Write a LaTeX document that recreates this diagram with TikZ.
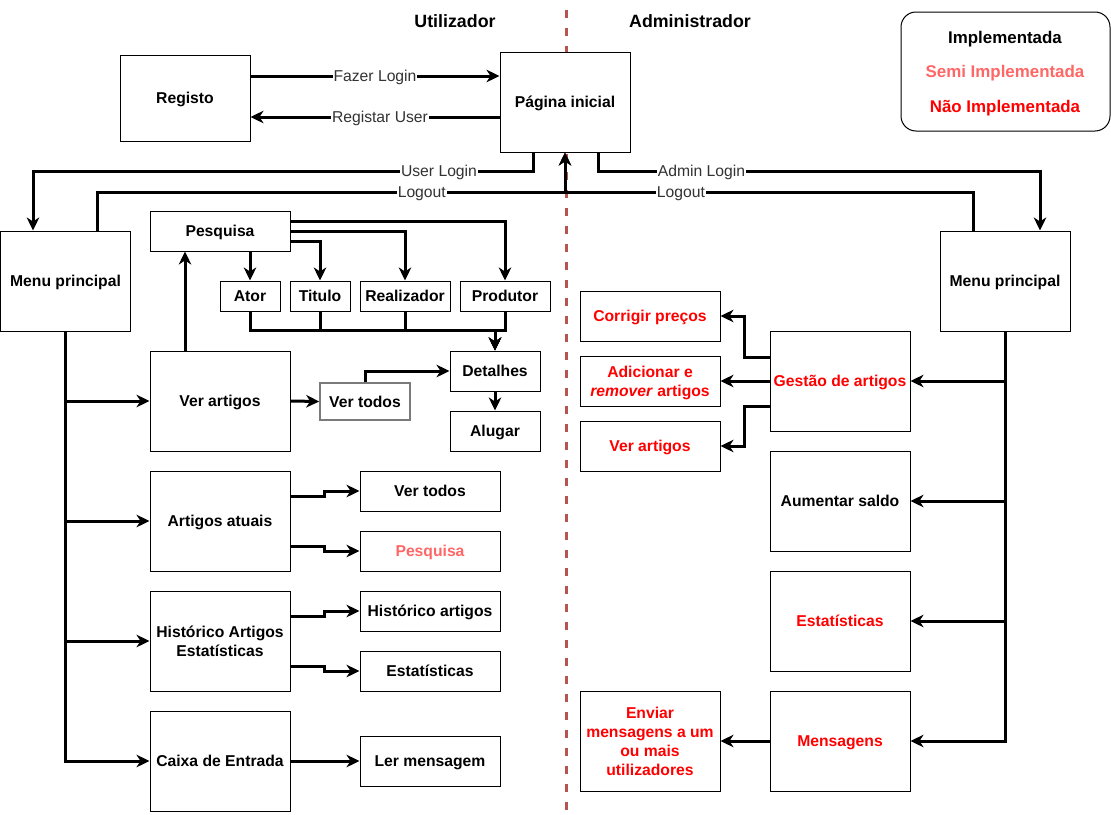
\documentclass[tikz,border=0pt]{standalone}
\usepackage{fontspec}
\setmainfont{Liberation Sans}
\usetikzlibrary{arrows.meta,calc}
\definecolor{semi}{HTML}{FF6666}
\definecolor{nao}{HTML}{FF0000}
\definecolor{sepc}{HTML}{B85450}
\definecolor{lblc}{HTML}{333333}
\definecolor{grayb}{HTML}{7A7A7A}
\begin{document}
\begin{tikzpicture}[x=1pt,y=-1pt,
  box/.style={draw,fill=white,line width=1pt,inner sep=1pt,align=center,text depth=0pt,
    font=\fontsize{15.7}{19}\selectfont\bfseries},
  sz/.style 2 args={minimum width=#1pt,minimum height=#2pt},
  conn/.style={line width=3pt,-{Stealth[length=13pt,width=12.5pt,inset=4pt]}},
  lbl/.style={fill=white,text=lblc,inner sep=1pt,text depth=0pt,
    font=\fontsize{15.7}{19}\selectfont},
  ttl/.style={text depth=0pt,font=\fontsize{17.8}{20}\selectfont\bfseries},
  leg/.style={text depth=0pt,font=\fontsize{16.9}{20}\selectfont\bfseries},
  sepline/.style={draw=sepc,line width=3pt,dash pattern=on 8pt off 10pt}
]
\useasboundingbox (0,0) rectangle (1111,814);

% separator
\draw[sepline] (566,10) -- (566,814);

% titles
\node[ttl] (tu) at (455,21) {Utilizador};
\node[ttl] (ta) at (690,21) {Administrador};

% legend
\node[draw,fill=white,line width=1pt,rounded corners=15pt,sz={209}{119}] (legbox) at (1005.5,71.5) {};
\node[leg] (l1) at (1005,37) {Implementada};
\node[leg,text=semi] (l2) at (1005,71) {Semi Implementada};
\node[leg,text=nao] (l3) at (1005,106) {Não Implementada};

% top nodes
\node[box,sz={130}{86}] (reg) at (185,98) {Registo};
\node[box,sz={130}{100}] (pag) at (565,102) {Página inicial};
\node[box,sz={130}{100}] (mpl) at (65.5,281) {Menu principal};
\node[box,sz={130}{100}] (mpr) at (1005,281) {Menu principal};

% user side
\node[box,sz={140}{40}] (pes) at (220,231) {Pesquisa};
\node[box,sz={60}{30}] (ator) at (250,296) {Ator};
\node[box,sz={60}{30}] (tit) at (320,296) {Titulo};
\node[box,sz={90}{30}] (rea) at (405,296) {Realizador};
\node[box,sz={90}{30}] (pro) at (505,296) {Produtor};
\node[box,sz={90}{40}] (det) at (495,371) {Detalhes};
\node[box,sz={90}{40}] (alu) at (495,431) {Alugar};
\node[box,sz={140}{100}] (vart) at (220,401) {Ver artigos};
\node[box,sz={90}{37},draw=grayb,line width=1.6pt] (vtd) at (365,401.5) {Ver todos};
\node[box,sz={140}{100}] (aat) at (220,521) {Artigos atuais};
\node[box,sz={140}{40}] (vt2) at (430,491) {Ver todos};
\node[box,sz={140}{40},text=semi] (pq2) at (430,551) {Pesquisa};
\node[box,sz={140}{100}] (hae) at (220,641) {Histórico Artigos\\Estatísticas};
\node[box,sz={140}{40}] (har) at (430,611) {Histórico artigos};
\node[box,sz={140}{40}] (est) at (430,671) {Estatísticas};
\node[box,sz={140}{100}] (cxe) at (220,761) {Caixa de Entrada};
\node[box,sz={140}{50}] (lm) at (430,761) {Ler mensagem};

% admin side
\node[box,sz={140}{100},text=nao] (gest) at (840,381) {Gestão de artigos};
\node[box,sz={140}{100}] (aum) at (840,501) {Aumentar saldo};
\node[box,sz={140}{100},text=nao] (estr) at (840,621) {Estatísticas};
\node[box,sz={140}{100},text=nao] (msg) at (840,741) {Mensagens};
\node[box,sz={140}{50},text=nao] (cor) at (650,316) {Corrigir preços};
\node[box,sz={140}{50},text=nao] (adi) at (650,381) {Adicionar e\\\textit{remover} artigos};
\node[box,sz={140}{50},text=nao] (var) at (650,446) {Ver artigos};
\node[box,sz={140}{100},text=nao] (env) at (650,741) {Enviar\\mensagens a um\\ou mais\\utilizadores};

% top connectors
\draw[conn] ($(reg.east)+(0,-22)$) -- node[lbl,pos=0.5]{Fazer Login} ($(pag.west)+(0,-26)$);
\draw[conn] ($(pag.west)+(0,15)$) -- node[lbl,pos=0.48]{Registar User} ($(reg.east)+(0,19)$);
\draw[conn] ($(pag.south)+(-32,0)$) |- node[lbl,pos=0.594]{User Login} ($(mpl.north)+(-32.5,-59.5)$) -- ($(mpl.north)+(-32.5,0)$);
\draw[conn] ($(mpl.north)+(31.5,0)$) |- node[lbl,pos=0.847]{Logout} ($(pag.south)+(0,39.5)$) -- (pag.south);
\draw[conn] ($(mpr.north)+(-32,0)$) |- node[lbl,pos=0.858]{Logout} ($(pag.south)+(0,39.5)$) -- (pag.south);
\draw[conn] ($(pag.south)+(33,0)$) |- node[lbl,pos=0.617]{Admin Login} ($(mpr.north)+(35,-59.5)$) -- ($(mpr.north)+(35,0)$);

% pesquisa tree
\draw[conn] ($(pes.south)+(30,0)$) -- (ator.north);
\draw[conn] ($(pes.east)+(0,10)$) -| (tit.north);
\draw[conn] (pes.east) -| (rea.north);
\draw[conn] ($(pes.east)+(0,-10)$) -| (pro.north);
\draw[conn] (ator.south) |- ($(det.north)+(0,-20)$) -- (det.north);
\draw[conn] (tit.south) |- ($(det.north)+(0,-20)$) -- (det.north);
\draw[conn] (rea.south) |- ($(det.north)+(0,-20)$) -- (det.north);
\draw[conn] (pro.south) |- ($(det.north)+(0,-20)$) -- (det.north);
\draw[conn] (det.south) -- (alu.north);
\draw[conn] ($(vart.north)+(-35,0)$) -- ($(pes.south)+(-35,0)$);
\draw[conn] (vart.east) -- (vtd.west);
\draw[conn] (vtd.north) |- (det.west);

% left trunk
\draw[conn] (mpl.south) |- (vart.west);
\draw[conn] (mpl.south) |- (aat.west);
\draw[conn] (mpl.south) |- (hae.west);
\draw[conn] (mpl.south) |- (cxe.west);

\draw[conn] ($(aat.east)+(0,-25)$) -- ++(34,0) |- (vt2.west);
\draw[conn] ($(aat.east)+(0,25)$) -- ++(34,0) |- (pq2.west);
\draw[conn] ($(hae.east)+(0,-25)$) -- ++(34,0) |- (har.west);
\draw[conn] ($(hae.east)+(0,25)$) -- ++(34,0) |- (est.west);
\draw[conn] (cxe.east) -- (lm.west);

% right trunk
\draw[conn] (mpr.south) |- (gest.east);
\draw[conn] (mpr.south) |- (aum.east);
\draw[conn] (mpr.south) |- (estr.east);
\draw[conn] (mpr.south) |- (msg.east);

\draw[conn] ($(gest.west)+(0,-24)$) -- ++(-25,0) |- (cor.east);
\draw[conn] (gest.west) -- (adi.east);
\draw[conn] ($(gest.west)+(0,25)$) -- ++(-25,0) |- (var.east);
\draw[conn] (msg.west) -- (env.east);
\end{tikzpicture}
\end{document}
